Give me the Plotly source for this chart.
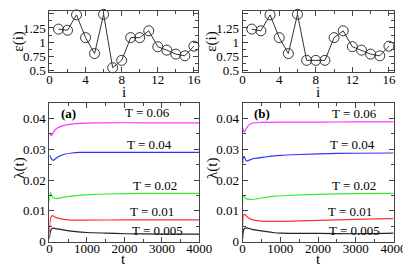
import plotly.graph_objects as go

# ---- data ----
site_i = list(range(1, 17))
eps_a = [1.23, 1.21, 1.48, 1.08, 0.80, 1.49, 0.55, 0.68, 1.08, 1.08, 1.20, 0.92, 0.86, 0.79, 0.76, 0.93]
eps_b = [1.23, 1.20, 1.48, 1.08, 0.80, 1.49, 0.68, 0.68, 0.68, 1.08, 1.20, 0.92, 0.86, 0.79, 0.76, 0.93]

temps = ["0.06", "0.04", "0.02", "0.01", "0.005"]
colors = ["#ff33ff", "#3333ff", "#33ee33", "#ff3333", "#222222"]

t_a = {
    "0.06": [0, 20, 60, 120, 200, 350, 500, 800, 1000, 1500, 2500, 4000],
    "0.04": [0, 20, 60, 100, 150, 250, 400, 600, 800, 1500, 2500, 4000],
    "0.02": [0, 10, 30, 60, 120, 200, 350, 600, 1000, 1500, 2500, 4000],
    "0.01": [0, 20, 50, 80, 150, 300, 500, 700, 1000, 2000, 3000, 4000],
    "0.005": [0, 20, 50, 100, 200, 400, 700, 1000, 1500, 2000, 3000, 4000],
}
lam_a = {
    "0.06": [0.0352, 0.0347, 0.0345, 0.0358, 0.0368, 0.0376, 0.0380, 0.0384, 0.0385, 0.0386, 0.0386, 0.0386],
    "0.04": [0.0280, 0.0277, 0.0268, 0.0264, 0.0268, 0.0277, 0.0284, 0.0288, 0.0290, 0.0290, 0.0290, 0.0290],
    "0.02": [0.0130, 0.0150, 0.0160, 0.0150, 0.0142, 0.0140, 0.0144, 0.0148, 0.0152, 0.0155, 0.0157, 0.0157],
    "0.01": [0.0030, 0.0070, 0.0082, 0.0085, 0.0080, 0.0074, 0.0071, 0.0070, 0.0070, 0.0071, 0.0071, 0.0071],
    "0.005": [0.0010, 0.0030, 0.0040, 0.0044, 0.0042, 0.0038, 0.0033, 0.0030, 0.0028, 0.0026, 0.0025, 0.0025],
}
t_b = {
    "0.06": [0, 20, 50, 100, 180, 300, 500, 1000, 2000, 3000, 4000],
    "0.04": [0, 20, 40, 100, 180, 300, 600, 1000, 1500, 2500, 4000],
    "0.02": [0, 10, 30, 80, 250, 500, 800, 1200, 2000, 3000, 4000],
    "0.01": [0, 20, 60, 150, 300, 500, 1000, 1500, 2500, 3500, 4000],
    "0.005": [0, 30, 100, 250, 500, 800, 1000, 2000, 3000, 4000],
}
lam_b = {
    "0.06": [0.0370, 0.0360, 0.0356, 0.0368, 0.0380, 0.0386, 0.0387, 0.0388, 0.0388, 0.0389, 0.0389],
    "0.04": [0.0255, 0.0275, 0.0276, 0.0262, 0.0265, 0.0270, 0.0275, 0.0280, 0.0283, 0.0287, 0.0288],
    "0.02": [0.0120, 0.0150, 0.0150, 0.0140, 0.0137, 0.0142, 0.0147, 0.0150, 0.0154, 0.0156, 0.0157],
    "0.01": [0.0050, 0.0085, 0.0089, 0.0078, 0.0070, 0.0067, 0.0066, 0.0068, 0.0071, 0.0074, 0.0075],
    "0.005": [0.0010, 0.0040, 0.0045, 0.0040, 0.0035, 0.0030, 0.0028, 0.0027, 0.0026, 0.0028],
}

label_pos_a = {"0.06": (2620, 0.0418), "0.04": (2680, 0.0316), "0.02": (2820, 0.0181),
               "0.01": (2740, 0.0098), "0.005": (2870, 0.0038)}
label_pos_b = {"0.06": (2955, 0.0417), "0.04": (2900, 0.0316), "0.02": (2955, 0.0181),
               "0.01": (2850, 0.0098), "0.005": (2955, 0.0038)}

W, H = 411, 266
FONT = "Liberation Serif"

def px_x(a, b):
    return [a / W, b / W]

def px_y(top, bot):
    return [1 - bot / H, 1 - top / H]

fig = go.Figure()

# top panels
for k, (eps, xa, ya) in enumerate([(eps_a, "x", "y"), (eps_b, "x2", "y2")]):
    fig.add_trace(go.Scatter(
        x=site_i, y=eps, xaxis=xa, yaxis=ya, mode="lines+markers",
        line=dict(color="#333333", width=1),
        marker=dict(symbol="circle-open", size=10, color="#333333", line=dict(width=1)),
        showlegend=False, cliponaxis=False))

# bottom panels
for tt, ll, xa, ya in [(t_a, lam_a, "x3", "y3"), (t_b, lam_b, "x4", "y4")]:
    for T, c in zip(temps, colors):
        fig.add_trace(go.Scatter(
            x=tt[T], y=ll[T], xaxis=xa, yaxis=ya, mode="lines",
            line=dict(color=c, width=1.2, shape="spline", smoothing=0.6),
            showlegend=False))

TICKFONT = dict(family=FONT, size=13, color="#000000")
axis_common = dict(showline=True, linecolor="#444444", linewidth=1, mirror="ticks",
                   ticks="inside", ticklen=5, tickcolor="#444444", showgrid=False,
                   zeroline=False, tickfont=TICKFONT)

top_x = dict(axis_common, range=[0, 16.5], tickvals=[0, 4, 8, 12, 16], ticklabelstandoff=-5,
             minor=dict(ticks="inside", ticklen=3, dtick=2, tick0=0, tickcolor="#444444"))
top_y = dict(axis_common, range=[0.475, 1.55], tickvals=[0.5, 0.75, 1, 1.25, 1.5],
             ticktext=["0.5", "0.75", "1", "1.25", "1.5"],
             minor=dict(ticks="inside", ticklen=3, dtick=0.125, tick0=0.5, tickcolor="#444444"))
bot_x = dict(axis_common, range=[0, 4000], tickvals=[0, 1000, 2000, 3000, 4000], ticklabelstandoff=-5,
             minor=dict(ticks="inside", ticklen=3, dtick=500, tick0=0, tickcolor="#444444"))
bot_y = dict(axis_common, range=[0, 0.045], tickvals=[0, 0.01, 0.02, 0.03, 0.04],
             ticktext=["0", "0.01", "0.02", "0.03", "0.04"],
             minor=dict(ticks="inside", ticklen=3, dtick=0.005, tick0=0, tickcolor="#444444"))

fig.update_layout(
    width=W, height=H, margin=dict(l=0, r=0, t=0, b=0),
    paper_bgcolor="white", plot_bgcolor="white",
    font=dict(family=FONT, size=12, color="#000000"),
    xaxis=dict(top_x, domain=px_x(40, 195), anchor="y"),
    yaxis=dict(top_y, domain=px_y(3, 66), anchor="x"),
    xaxis2=dict(top_x, domain=px_x(241, 398), anchor="y2"),
    yaxis2=dict(top_y, domain=px_y(3, 66), anchor="x2"),
    xaxis3=dict(bot_x, domain=px_x(40, 196), anchor="y3"),
    yaxis3=dict(bot_y, domain=px_y(98, 241), anchor="x3"),
    xaxis4=dict(bot_x, domain=px_x(241, 398), anchor="y4"),
    yaxis4=dict(bot_y, domain=px_y(98, 241), anchor="x4"),
)

TITLEFONT = dict(family=FONT, size=15, color="#000")
annotations = []
for pos, xa, ya in [(label_pos_a, "x3", "y3"), (label_pos_b, "x4", "y4")]:
    for T in temps:
        x, y = pos[T]
        annotations.append(dict(x=x, y=y, xref=xa, yref=ya, text="T = " + T,
                                xanchor="center", yanchor="middle",
                                showarrow=False, font=dict(family=FONT, size=13, color="#000")))
for xa, ya, lab in [("x3", "y3", "(a)"), ("x4", "y4", "(b)")]:
    annotations.append(dict(x=520, y=0.0415, xref=xa, yref=ya, text="<b>" + lab + "</b>",
                            xanchor="center", yanchor="middle",
                            showarrow=False, font=dict(family=FONT, size=13, color="#000")))

# axis titles (placed in paper coordinates)
def title_ann(xc, yc, text, angle=0):
    return dict(x=xc / W, y=1 - yc / H, xref="paper", yref="paper", text=text,
                xanchor="center", yanchor="middle", textangle=angle,
                showarrow=False, font=TITLEFONT)

for xc in [117.5, 319.5]:
    annotations.append(title_ann(xc, 87, "i"))
    annotations.append(title_ann(xc, 258.5, "t"))
for xc in [8, 209]:
    annotations.append(title_ann(xc, 35, "ε(i)", -90))
    annotations.append(title_ann(xc, 165, "λ(t)", -90))
fig.update_layout(annotations=annotations)

fig.write_html("out.html")
